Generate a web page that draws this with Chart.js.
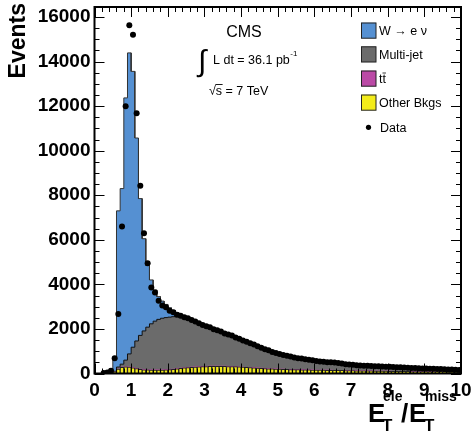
<!DOCTYPE html>
<html><head><meta charset="utf-8">
<script src="https://cdn.jsdelivr.net/npm/chart.js@4/dist/chart.umd.min.js"></script>
<style>html,body{margin:0;padding:0;background:#fff;}#wrap{width:473px;height:434px;}</style>
</head><body><div id="wrap"><canvas id="c" width="473" height="434"></canvas></div>
<script>
// ---- binning / axes ----
const binLow = 0, binWidth = 0.1;
const xTicks = [0,1,2,3,4,5,6,7,8,9,10];
const yTicks = [0,2000,4000,6000,8000,10000,12000,14000,16000];
const xMinor = 0.2, yMinor = 500;

// ---- per-bin values (bins of 0.1 from 0 to 10) ----
const dataCounts = [
 0,0,20,50,120,680,2670,6600,11990,15630,
 15210,11680,8430,6300,4950,3860,3630,3260,3050,2975,
 2820,2750,2640,2590,2530,2480,2400,2330,2250,2180,
 2120,2080,1990,1940,1880,1790,1750,1700,1620,1560,
 1480,1430,1360,1300,1220,1160,1090,1040,970,920,
 880,830,800,760,720,690,670,640,620,600,
 560,540,525,510,500,490,470,450,420,400,
 390,370,360,350,345,335,330,320,310,305,
 300,290,280,275,265,258,250,242,236,230,
 222,215,210,205,200,190,182,175,168,160];
const wenu = [
 0,0,0,5,40,650,7010,7880,11770,13510,
 12380,9110,6140,4140,2770,1970,1400,1020,770,590,
 420,280,175,105,60,30,20,15,12,10,
 10,9,9,8,8,8,7,7,7,6,
 6,6,5,5,5,5,5,4,4,4,
 4,4,4,3,3,3,3,3,3,3,
 3,3,3,3,3,3,3,3,3,3,
 2,2,2,2,2,2,2,2,2,2,
 2,2,2,2,2,1,1,1,1,1,
 1,1,1,1,1,1,1,1,1,1];
const multijet = [
 0,0,0,0,5,39,88,137,296,585,
 914,1233,1512,1731,1910,2070,2190,2270,2315,2335,
 2345,2350,2335,2305,2260,2206,2131,2046,1959,1871,
 1786,1713,1638,1579,1524,1464,1411,1356,1291,1242,
 1182,1133,1074,1024,964,914,865,816,766,721,
 676,642,607,573,538,511,485,459,444,426,
 399,382,364,352,339,327,314,297,279,262,
 252,240,233,225,217,211,206,201,196,191,
 186,181,176,170,164,160,155,149,144,139,
 136,131,126,122,117,113,109,104,100,97];
const ttbar = [
 0,0,0,0,0,1,2,3,4,5,
 6,7,8,9,10,10,10,10,10,10,
 10,10,10,10,10,9,9,9,9,9,
 9,8,8,8,8,8,7,7,7,7,
 7,6,6,6,6,6,5,5,5,5,
 5,4,4,4,4,4,4,3,3,3,
 3,3,3,3,3,3,3,3,3,3,
 3,3,3,3,3,2,2,2,2,2,
 2,2,2,2,2,2,2,2,2,2,
 1,1,1,1,1,1,1,1,1,1];
const otherBkgs = [
 0,0,0,5,15,60,200,280,300,290,
 260,220,190,170,160,150,150,150,155,165,
 175,190,210,230,250,265,280,290,300,310,
 315,320,325,325,320,320,315,310,305,295,
 285,275,265,255,245,235,225,215,205,200,
 195,190,185,180,175,172,168,165,160,158,
 155,152,150,147,145,142,140,137,135,132,
 128,125,122,120,118,115,112,110,108,105,
 102,100,98,96,94,92,90,88,86,84,
 82,80,78,76,75,73,71,70,68,66];

const COL = {w:'#5590d2', qcd:'#6b6b6b', tt:'#bb4aa6', other:'#f3ec1a'};
const FONT = '"Liberation Sans", Arial, Helvetica, sans-serif';

// ---- derived (stacked) ----
const centers = dataCounts.map((_, i) => binLow + (i + 0.5) * binWidth);
function cum(...arrs){ return arrs[0].map((_, i) => arrs.reduce((s, a) => s + a[i], 0)); }
const topOther = otherBkgs;
const topTt = cum(otherBkgs, ttbar);
const topQcd = cum(otherBkgs, ttbar, multijet);
const topW = cum(otherBkgs, ttbar, multijet, wenu);
function steps(vals){
  const pts = [];
  vals.forEach((v, i) => {
    const lo = +(binLow + i * binWidth).toFixed(6), hi = +(binLow + (i + 1) * binWidth).toFixed(6);
    pts.push({x: lo, y: v}, {x: hi, y: v});
  });
  return pts;
}
const asXY = arr => arr.map((v, i) => ({x: centers[i], y: v}));

const frameAndTicks = {
  id: 'frameTicks',
  afterDatasetsDraw(chart){
    const {ctx, chartArea: a, scales: {x, y}} = chart;
    ctx.save();
    ctx.strokeStyle = '#000'; ctx.lineWidth = 1;
    ctx.beginPath();
    for (let k = 0; k * xMinor <= x.max + 1e-9; k++){
      const v = k * xMinor;
      const px = Math.round(x.getPixelForValue(v)) + 0.5;
      const major = Math.abs(v - Math.round(v)) < 1e-6;
      const L = major ? 10 : 5;
      ctx.moveTo(px, a.bottom); ctx.lineTo(px, a.bottom - L);
      ctx.moveTo(px, a.top); ctx.lineTo(px, a.top + L);
    }
    for (let v = 0; v <= y.max; v += yMinor){
      const py = Math.round(y.getPixelForValue(v)) + 0.5;
      const L = (v % 2000 === 0) ? 10 : 5;
      ctx.moveTo(a.left, py); ctx.lineTo(a.left + L, py);
      ctx.moveTo(a.right, py); ctx.lineTo(a.right - L, py);
    }
    ctx.stroke();
    ctx.lineWidth = 2;
    ctx.strokeRect(a.left, a.top, a.right - a.left, a.bottom - a.top);
    ctx.restore();
  },
  afterDraw(chart){
    const ctx = chart.ctx;
    ctx.save();
    ctx.fillStyle = '#000'; ctx.strokeStyle = '#000';
    ctx.textBaseline = 'alphabetic';
    // CMS annotation
    ctx.font = `16px ${FONT}`; ctx.textAlign = 'center';
    ctx.fillText('CMS', 244, 37);
    ctx.textAlign = 'left';
    ctx.font = `30px ${FONT}`; ctx.fillText('∫', 198, 71);
    ctx.font = `12.5px ${FONT}`;
    const lumi = 'L dt = 36.1 pb';
    ctx.fillText(lumi, 213, 63.5);
    const wl = ctx.measureText(lumi).width;
    ctx.font = `8px ${FONT}`; ctx.fillText('-1', 213 + wl + 0.5, 56);
    ctx.font = `12.5px ${FONT}`;
    ctx.fillText('√', 209, 95);
    const wr = ctx.measureText('√').width;
    ctx.fillText('s = 7 TeV', 209 + wr, 95);
    const wsx = ctx.measureText('s').width;
    ctx.lineWidth = 0.9; ctx.beginPath();
    ctx.moveTo(209 + wr - 0.5, 84.5); ctx.lineTo(209 + wr + wsx + 0.5, 84.5); ctx.stroke();

    // legend
    const items = [
      {label: chart.data.datasets[4].label, color: COL.w, cy: 30.5},
      {label: chart.data.datasets[3].label, color: COL.qcd, cy: 54.3},
      {label: chart.data.datasets[2].label, color: COL.tt, cy: 78.5, bar: true},
      {label: chart.data.datasets[1].label, color: COL.other, cy: 102.5}
    ];
    ctx.font = `12.5px ${FONT}`;
    items.forEach(it => {
      ctx.fillStyle = it.color;
      ctx.fillRect(361, it.cy - 7.8, 15, 15.6);
      ctx.strokeStyle = '#222'; ctx.lineWidth = 1;
      ctx.strokeRect(361.5, it.cy - 7.5, 14.5, 15.2);
      ctx.fillStyle = '#000';
      ctx.fillText(it.label, 379, it.cy + 4.5);
      if (it.bar){
        const wt = ctx.measureText('t').width;
        ctx.beginPath(); ctx.lineWidth = 0.9;
        ctx.moveTo(379 + wt, it.cy - 5.5); ctx.lineTo(379 + 2 * wt, it.cy - 5.5); ctx.stroke();
      }
    });
    ctx.beginPath(); ctx.arc(368.5, 127.3, 2.6, 0, Math.PI * 2); ctx.fill();
    ctx.fillText(chart.data.datasets[0].label, 380, 131.8);

    // y title
    ctx.save();
    ctx.translate(25, 3); ctx.rotate(-Math.PI / 2);
    ctx.font = `bold 23px ${FONT}`; ctx.textAlign = 'right';
    ctx.fillText('Events', 0, 0);
    ctx.restore();

    // x title  E_T^ele / E_T^miss
    ctx.textAlign = 'left';
    ctx.font = `bold 26px ${FONT}`;
    ctx.fillText('E', 368, 422);
    ctx.fillText('/', 401, 422);
    ctx.fillText('E', 409, 422);
    ctx.font = `bold 14px ${FONT}`;
    ctx.fillText('ele', 383, 401);
    ctx.fillText('miss', 425, 401);
    ctx.font = `bold 17px ${FONT}`;
    ctx.fillText('T', 382, 431);
    ctx.fillText('T', 424, 431);
    ctx.restore();
  }
};

new Chart(document.getElementById('c'), {
  type: 'bar',
  data: {
    datasets: [
      {type: 'scatter', label: 'Data', data: dataCounts.map((v, i) => ({x: centers[i], y: v > 0 ? v : null})),
        pointRadius: 3, pointBackgroundColor: '#000', pointBorderWidth: 0, order: 0},
      {type: 'bar', label: 'Other Bkgs', data: asXY(topOther), backgroundColor: COL.other,
        borderColor: '#222', borderWidth: 1, grouped: false, barPercentage: 1, categoryPercentage: 1, order: 1},
      {type: 'bar', label: 'tt', data: asXY(topTt), backgroundColor: COL.tt,
        borderWidth: 0, grouped: false, barPercentage: 1, categoryPercentage: 1, order: 2},
      {type: 'line', label: 'Multi-jet', data: steps(topQcd), backgroundColor: COL.qcd, fill: 'origin',
        borderColor: '#111', borderWidth: 1, pointRadius: 0, tension: 0, order: 3},
      {type: 'line', label: 'W → e ν', data: steps(topW), backgroundColor: COL.w, fill: 'origin',
        borderColor: '#333', borderWidth: 1, pointRadius: 0, tension: 0, order: 4}
    ]
  },
  options: {
    responsive: false, animation: false, devicePixelRatio: 1,
    layout: {padding: {left: 0, right: 12, top: 7, bottom: 0}},
    plugins: {legend: {display: false}, tooltip: {enabled: false}},
    scales: {
      x: {type: 'linear', min: 0, max: 10, offset: false,
        grid: {display: false, drawTicks: false, offset: false}, border: {display: false},
        ticks: {font: {family: FONT, size: 19, weight: 'bold'}, color: '#000', padding: 6, maxRotation: 0,
          callback: v => String(v)},
        afterBuildTicks: s => { s.ticks = xTicks.map(v => ({value: v})); },
        afterFit: s => { s.height = 434 - 373.5; s.paddingLeft = 0; s.paddingRight = 0; }
      },
      y: {type: 'linear', min: 0, max: 16450,
        grid: {display: false, drawTicks: false}, border: {display: false},
        ticks: {font: {family: FONT, size: 19, weight: 'bold'}, color: '#000', padding: 4,
          callback: v => String(v)},
        afterBuildTicks: s => { s.ticks = yTicks.map(v => ({value: v})); },
        afterFit: s => { s.width = 94.5; s.paddingTop = 0; s.paddingBottom = 0; }
      }
    }
  },
  plugins: [frameAndTicks]
});
</script>
</body></html>
